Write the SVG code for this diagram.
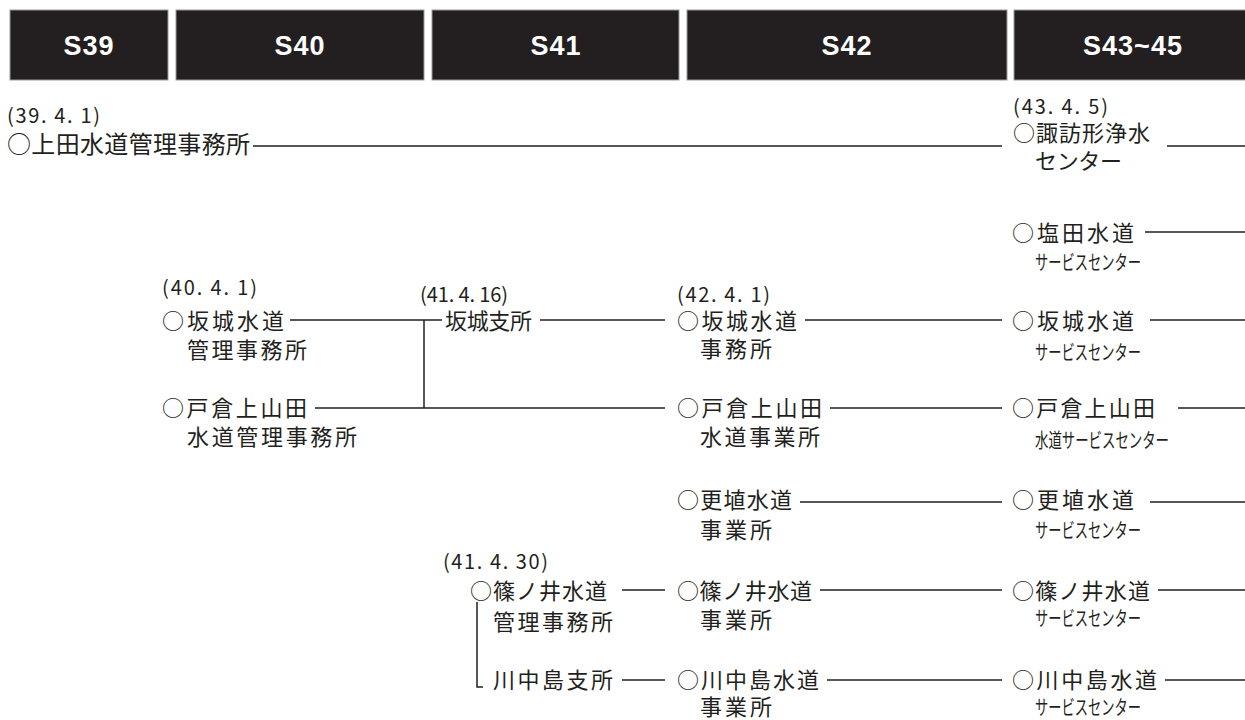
<svg xmlns="http://www.w3.org/2000/svg" width="1245" height="720" viewBox="0 0 1245 720">
<style>
.bar{fill:#231f20;stroke:#9a9a9a;stroke-width:1}
.hd{font-family:"Liberation Sans",Arial,sans-serif;font-weight:bold;font-size:27px;fill:#ffffff;text-anchor:middle;letter-spacing:1px}
.t{font-family:"Noto Sans CJK JP","Noto Sans CJK SC",sans-serif;font-size:22px;fill:#231f20}
.d{font-family:"Noto Sans CJK JP","Noto Sans CJK SC",sans-serif;font-size:20px;fill:#231f20}
.s{font-family:"Noto Sans CJK JP","Noto Sans CJK SC",sans-serif;font-size:20px;fill:#231f20}
.ln{fill:none;stroke:#231f20;stroke-width:1.5}
</style>
<rect width="1245" height="720" fill="#ffffff"/>
<g id="header">
<rect class="bar" x="10" y="10" width="158" height="70"/>
<rect class="bar" x="176" y="10" width="248" height="70"/>
<rect class="bar" x="432" y="10" width="247" height="70"/>
<rect class="bar" x="687" y="10" width="320" height="70"/>
<rect class="bar" x="1014" y="10" width="240" height="70"/>
<text class="hd" x="89" y="55">S39</text>
<text class="hd" x="300" y="55">S40</text>
<text class="hd" x="556" y="55">S41</text>
<text class="hd" x="847" y="55">S42</text>
<text class="hd" x="1133" y="55">S43~45</text>
</g>
<g id="connectors">
<path class="ln" d="M253 146H1002M1167 146H1245M1145 232H1245M290 320H442M424 320V408M315 408H665M540 320H665M805 320H1002M1150 320H1245M830 408H1002M1178 408H1245M800 502H1002M1150 502H1245M622 590H665M820 590H1002M1158 590H1245M477 602V687H483M622 680H665M827 680H1002M1165 680H1245"/>
</g>
<g id="n-ueda">
<text class="d" x="7" y="123" textLength="93" lengthAdjust="spacing">(39. 4. 1)</text>
<text class="t" x="7" y="153" style="font-size:24px" textLength="243" lengthAdjust="spacing">○上田水道管理事務所</text>
</g>
<g id="n-suwagata">
<text class="d" x="1013" y="114" textLength="95" lengthAdjust="spacing">(43. 4. 5)</text>
<text class="t" x="1013" y="141" textLength="137" lengthAdjust="spacing">○諏訪形浄水</text>
<text class="t" x="1035" y="169" textLength="87" lengthAdjust="spacing">センター</text>
</g>
<g id="n-sakaki40">
<text class="d" x="162" y="295" textLength="95" lengthAdjust="spacing">(40. 4. 1)</text>
<text class="t" x="162" y="329" textLength="122" lengthAdjust="spacing">○坂城水道</text>
<text class="t" x="187" y="358" textLength="120" lengthAdjust="spacing">管理事務所</text>
</g>
<g id="n-tokura40">
<text class="t" x="162" y="416" textLength="145" lengthAdjust="spacing">○戸倉上山田</text>
<text class="t" x="187" y="445" textLength="170" lengthAdjust="spacing">水道管理事務所</text>
</g>
<g id="n-sakaki41">
<text class="d" x="420" y="302" textLength="88" lengthAdjust="spacing">(41. 4. 16)</text>
<text class="t" x="445" y="329" textLength="87" lengthAdjust="spacing">坂城支所</text>
</g>
<g id="n-shinonoi41">
<text class="d" x="443" y="569" textLength="105" lengthAdjust="spacing">(41. 4. 30)</text>
<text class="t" x="470" y="599" textLength="137" lengthAdjust="spacing">○篠ノ井水道</text>
<text class="t" x="493" y="630" textLength="120" lengthAdjust="spacing">管理事務所</text>
</g>
<g id="n-kawanakajima41">
<text class="t" x="493" y="688" textLength="120" lengthAdjust="spacing">川中島支所</text>
</g>
<g id="n-sakaki42">
<text class="d" x="677" y="302" textLength="93" lengthAdjust="spacing">(42. 4. 1)</text>
<text class="t" x="677" y="329" textLength="120" lengthAdjust="spacing">○坂城水道</text>
<text class="t" x="700" y="357" textLength="72" lengthAdjust="spacing">事務所</text>
</g>
<g id="n-tokura42">
<text class="t" x="677" y="416" textLength="145" lengthAdjust="spacing">○戸倉上山田</text>
<text class="t" x="700" y="445" textLength="120" lengthAdjust="spacing">水道事業所</text>
</g>
<g id="n-koshoku42">
<text class="t" x="677" y="508" textLength="115" lengthAdjust="spacing">○更埴水道</text>
<text class="t" x="700" y="538" textLength="72" lengthAdjust="spacing">事業所</text>
</g>
<g id="n-shinonoi42">
<text class="t" x="677" y="599" textLength="135" lengthAdjust="spacing">○篠ノ井水道</text>
<text class="t" x="700" y="628" textLength="72" lengthAdjust="spacing">事業所</text>
</g>
<g id="n-kawanakajima42">
<text class="t" x="677" y="688" textLength="142" lengthAdjust="spacing">○川中島水道</text>
<text class="t" x="700" y="715" textLength="72" lengthAdjust="spacing">事業所</text>
</g>
<g id="n-shioda43">
<text class="t" x="1012" y="241" textLength="122" lengthAdjust="spacing">○塩田水道</text>
<text class="s" x="1035" y="270" textLength="106" lengthAdjust="spacingAndGlyphs">サービスセンター</text>
</g>
<g id="n-sakaki43">
<text class="t" x="1012" y="329" textLength="122" lengthAdjust="spacing">○坂城水道</text>
<text class="s" x="1035" y="360" textLength="106" lengthAdjust="spacingAndGlyphs">サービスセンター</text>
</g>
<g id="n-tokura43">
<text class="t" x="1012" y="416" textLength="143" lengthAdjust="spacing">○戸倉上山田</text>
<text class="s" x="1035" y="448" textLength="134" lengthAdjust="spacingAndGlyphs">水道サービスセンター</text>
</g>
<g id="n-koshoku43">
<text class="t" x="1012" y="508" textLength="122" lengthAdjust="spacing">○更埴水道</text>
<text class="s" x="1035" y="538" textLength="106" lengthAdjust="spacingAndGlyphs">サービスセンター</text>
</g>
<g id="n-shinonoi43">
<text class="t" x="1012" y="599" textLength="138" lengthAdjust="spacing">○篠ノ井水道</text>
<text class="s" x="1035" y="626" textLength="106" lengthAdjust="spacingAndGlyphs">サービスセンター</text>
</g>
<g id="n-kawanakajima43">
<text class="t" x="1012" y="688" textLength="145" lengthAdjust="spacing">○川中島水道</text>
<text class="s" x="1035" y="715" textLength="106" lengthAdjust="spacingAndGlyphs">サービスセンター</text>
</g>
</svg>
